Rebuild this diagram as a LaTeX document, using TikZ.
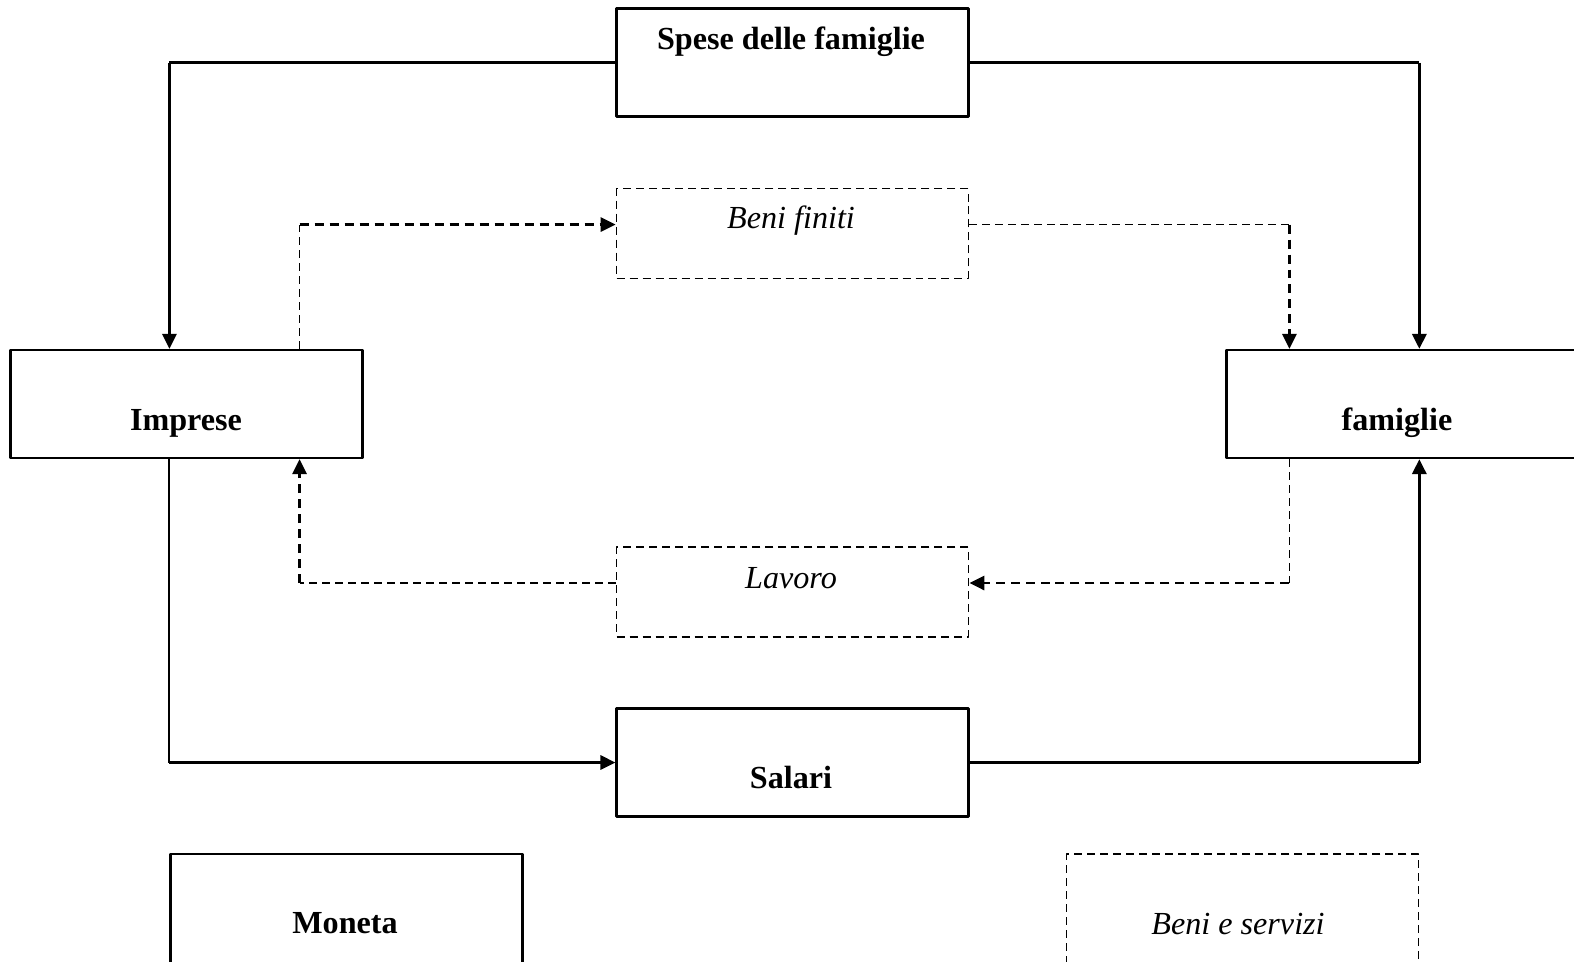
\documentclass[tikz,border=0pt]{standalone}
\usepackage{fontspec}
\setmainfont{Liberation Serif}
\usetikzlibrary{arrows.meta}

\begin{document}
\begin{tikzpicture}[x=0.02cm, y=-0.02cm, line join=round, >={Triangle[length=0.3cm,width=0.28cm]}]
	\tikzset{every node/.style={font=\fontsize{18.3}{22}\selectfont},
		box/.style={draw, line width=1.25pt, minimum width=7.04cm, minimum height=2.16cm, inner sep=0pt},
		dbox/.style={box, line width=1pt, dash pattern=on 0.16cm off 0.1cm},
		lbl/.style={anchor=base, inner sep=0pt},
		link/.style={line width=1.2pt},
		alink/.style={line width=1.7pt, ->},
		dlink/.style={line width=1pt, dash pattern=on 0.16cm off 0.1cm},
		dalink/.style={line width=1.6pt, dash pattern=on 0.18cm off 0.12cm, ->}}
	\useasboundingbox (0,0) rectangle (1574,961);
	\clip (0,0) rectangle (1574,961);
	% boxes
	\node[box] (spese) at (792.5,62.5) {};
	\node[dbox, minimum height=1.8cm] (fin) at (792.5,233.5) {};
	\node[box] (imp) at (186.5,404) {};
	\node[box] (fam) at (1402.5,404) {};
	\node[dbox, minimum height=1.8cm] (lav) at (792.5,592) {};
	\node[box] (sal) at (792.5,762.5) {};
	\node[box, minimum height=2.6cm] (mon) at (346.5,919) {};
	\node[dbox, minimum height=2.6cm] (ben) at (1242.5,919) {};
	% texts
	\node[lbl] (t-spese) at (791,49) {\textbf{Spese delle famiglie}};
	\node[lbl] (t-fin) at (791,228) {\textit{Beni finiti}};
	\node[lbl] (t-imp) at (186,430) {\textbf{Imprese}};
	\node[lbl] (t-fam) at (1397,430) {\textbf{famiglie}};
	\node[lbl] (t-lav) at (791,588) {\textit{Lavoro}};
	\node[lbl] (t-sal) at (791,788) {\textbf{Salari}};
	\node[lbl] (t-mon) at (345,933) {\textbf{Moneta}};
	\node[lbl] (t-ben) at (1238,934) {\textit{Beni e servizi}};
	% points where the dashed flows meet the boxes
	\coordinate (fin-in) at ([yshift=0.18cm]fin.west);
	\coordinate (fin-out) at ([yshift=0.18cm]fin.east);
	\coordinate (lav-in) at ([yshift=0.18cm]lav.east);
	\coordinate (lav-out) at ([yshift=0.18cm]lav.west);
	\coordinate (imp-up) at ([xshift=-1.28cm]imp.north east);
	\coordinate (imp-dn) at ([xshift=-1.28cm]imp.south east);
	\coordinate (fam-up) at ([xshift=1.28cm]fam.north west);
	\coordinate (fam-dn) at ([xshift=1.28cm]fam.south west);
	% money
	\draw[link] (spese.west) -- (spese.west -| mon.west);
	\draw[alink] (spese.west -| mon.west) -- (imp.north -| mon.west);
	\draw[link] (spese.east) -- (spese.east -| ben.east);
	\draw[alink] (spese.east -| ben.east) -- (fam.north -| ben.east);
	\draw[link] (imp.south -| mon.west) -- (sal.west -| mon.west);
	\draw[alink] (sal.west -| mon.west) -- (sal.west);
	\draw[link] (sal.east) -- (sal.east -| ben.east);
	\draw[alink] (sal.east -| ben.east) -- (fam.south -| ben.east);
	% goods and labour
	\draw[dlink] (imp-up) -- (imp-up |- fin-in);
	\draw[dalink] (imp-up |- fin-in) -- (fin-in);
	\draw[dlink] (fin-out) -- (fin-out -| fam-up);
	\draw[dalink] (fin-out -| fam-up) -- (fam-up);
	\draw[dlink] (fam-dn) -- (fam-dn |- lav-in);
	\draw[dalink] (fam-dn |- lav-in) -- (lav-in);
	\draw[dlink] (lav-out) -- (lav-out -| imp-dn);
	\draw[dalink] (lav-out -| imp-dn) -- (imp-dn);
\end{tikzpicture}
\end{document}
